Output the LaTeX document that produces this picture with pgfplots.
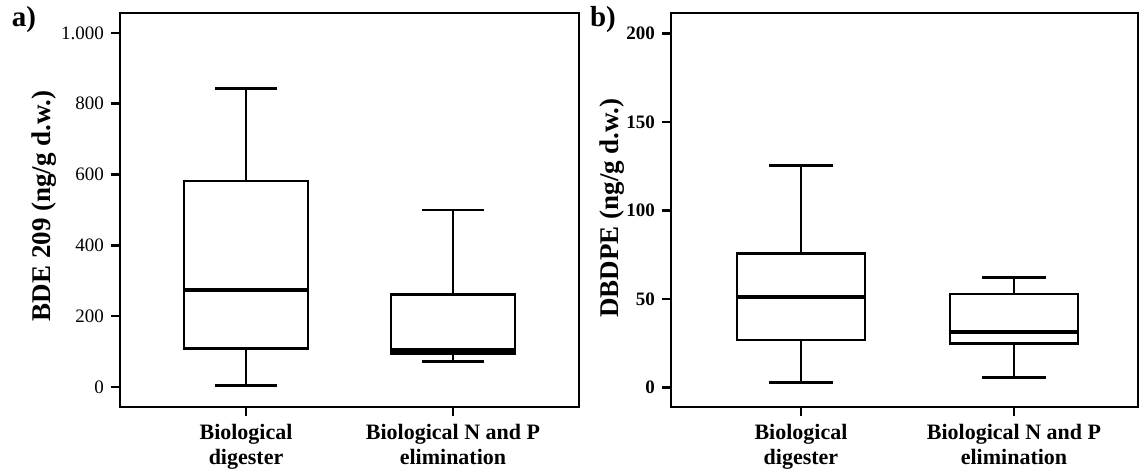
\documentclass[border=0pt]{standalone}
\usepackage{pgfplots}
\pgfplotsset{compat=1.18}
\usepgfplotslibrary{statistics}
\usepackage{fontspec}
\setmainfont{Liberation Serif}

\pgfplotsset{
  bxp/.style={
    scale only axis,
    anchor=south west,
    height=197pt,
    axis line style={line width=1.2pt},
    tick align=outside,
    tick pos=left,
    major tick length=4.5pt,
    every tick/.style={black, line width=1.2pt},
    xtick={1,2},
    xticklabels={Biological\\digester, Biological N and P\\elimination},
    xticklabel style={align=center, font=\bfseries\fontsize{11}{12.5}\selectfont, yshift=-0.5pt},
    yticklabel style={font=\fontsize{9.5}{11}\selectfont},
    /pgf/number format/assume math mode=true,
    every axis y label/.style={at={(axis description cs:0,0.5)}, rotate=90, anchor=center, font=\bfseries\fontsize{13.5}{15}\selectfont},
    boxplot/draw direction=y,
    boxplot/box extend=0.6,
    boxplot/whisker extend=0.3,
    boxplot/every median/.style={line width=2pt},
  },
  bx/.style={black, line width=1.3pt, solid, fill=white},
}

\begin{document}
\begin{tikzpicture}
\useasboundingbox (0,0) rectangle (569.5pt,236pt);

% panel a
\begin{axis}[bxp,
  at={(60pt,32.5pt)}, width=229.5pt,
  xmin=0.391, xmax=2.609,
  ymin=-56.5, ymax=1056,
  ytick={0,200,400,600,800,1000},
  yticklabels={0,200,400,600,800,1.000},
  ylabel={BDE 209 (ng/g d.w.)},
  ylabel style={at={(axis description cs:-0.165,0.51)}},
]
\addplot+[bx, boxplot prepared={draw position=1,
  lower whisker=4, lower quartile=109, median=274,
  upper quartile=582, upper whisker=842}] coordinates {};
\addplot+[bx, boxplot prepared={draw position=2,
  lower whisker=72, lower quartile=95, median=105,
  upper quartile=262, upper whisker=500}] coordinates {};
\end{axis}

% panel b
\begin{axis}[bxp,
  at={(335.5pt,32.5pt)}, width=233.5pt,
  xmin=0.39, xmax=2.582,
  ymin=-10.9, ymax=211.5,
  ytick={0,50,100,150,200},
  yticklabel style={font=\bfseries\fontsize{9.5}{11}\selectfont},
  ylabel={DBDPE (ng/g d.w.)},
  ylabel style={at={(axis description cs:-0.126,0.505)}},
]
\addplot+[bx, boxplot prepared={draw position=1,
  lower whisker=3, lower quartile=26.9, median=51.4,
  upper quartile=75.9, upper whisker=125.3}] coordinates {};
\addplot+[bx, boxplot prepared={draw position=2,
  lower whisker=5.6, lower quartile=25.1, median=31.3,
  upper quartile=52.9, upper whisker=62.3}] coordinates {};
\end{axis}

\node[font=\bfseries\fontsize{14.5}{16}\selectfont] at (12pt,226pt) {a)};
\node[font=\bfseries\fontsize{14.5}{16}\selectfont] at (301.5pt,226pt) {b)};
\end{tikzpicture}
\end{document}
